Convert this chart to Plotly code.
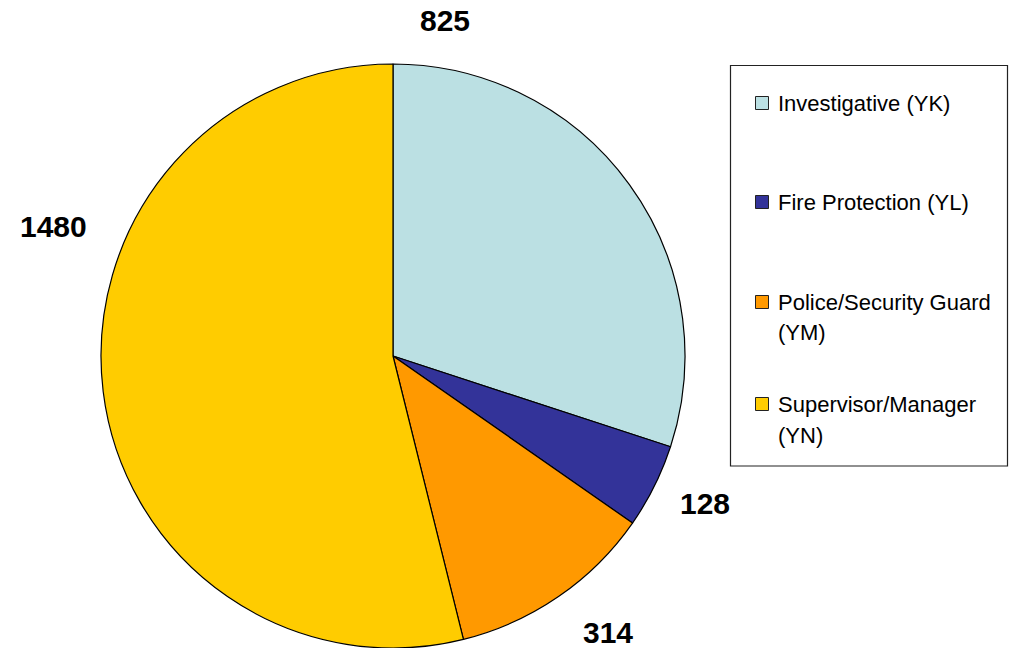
import plotly.graph_objects as go

categories = ["Investigative (YK)", "Fire Protection (YL)", "Police/Security Guard (YM)", "Supervisor/Manager (YN)"]
values = [825, 128, 314, 1480]
colors = ["#BBE0E3", "#333399", "#FF9900", "#FFCC00"]

W, H = 1009, 648


def px(X):
    return X / W


def py(Y):
    return 1 - Y / H


cx, cy, r = 393, 356, 292

fig = go.Figure(go.Pie(
    labels=categories, values=values, sort=False, direction="clockwise", rotation=0,
    marker=dict(colors=colors, line=dict(color="black", width=1.2)),
    textinfo="none", hoverinfo="label+value", showlegend=False,
    domain=dict(x=[px(cx - r), px(cx + r)], y=[max(0, py(cy + r)), py(cy - r)]),
))

# value labels (positions in reference pixels from top-left)
label_pos = [(445, 20), (705, 503), (608, 632), (53, 226)]
annotations = []
for v, (X, Y) in zip(values, label_pos):
    annotations.append(dict(x=px(X), y=py(Y), xref="paper", yref="paper",
                            text=f"<b>{v}</b>", showarrow=False, xanchor="center", yanchor="middle",
                            font=dict(family="Liberation Sans, Arial", size=30, color="black")))

# legend
shapes = [dict(type="rect", xref="paper", yref="paper",
               x0=px(730.5), x1=px(1007.5), y0=py(466), y1=py(65.5),
               line=dict(color="#222222", width=1.2), fillcolor="white", layer="below")]
leg_y = [103, 202, 302, 404]
line_gap = 31
for name, col, ly in zip(categories, colors, leg_y):
    shapes.append(dict(type="rect", xref="paper", yref="paper",
                       x0=px(755.5), x1=px(768.5), y0=py(ly + 6.5), y1=py(ly - 6.5),
                       line=dict(color="#222222", width=1), fillcolor=col))
    if len(name) > 22:
        idx = name.rfind(" (")
        lines = [name[:idx], name[idx + 1:]]
    else:
        lines = [name]
    for i, t in enumerate(lines):
        annotations.append(dict(x=px(776), y=py(ly + i * line_gap), xref="paper", yref="paper",
                                text=t, showarrow=False, xanchor="left", yanchor="middle",
                                font=dict(family="Liberation Sans, Arial", size=22, color="black")))

fig.update_layout(
    width=W, height=H, margin=dict(l=0, r=0, t=0, b=0),
    paper_bgcolor="white", plot_bgcolor="white",
    annotations=annotations, shapes=shapes,
)
fig.write_html("out.html", config={"displayModeBar": False},
               post_script="document.body.style.margin='0';document.body.style.overflow='hidden';")
